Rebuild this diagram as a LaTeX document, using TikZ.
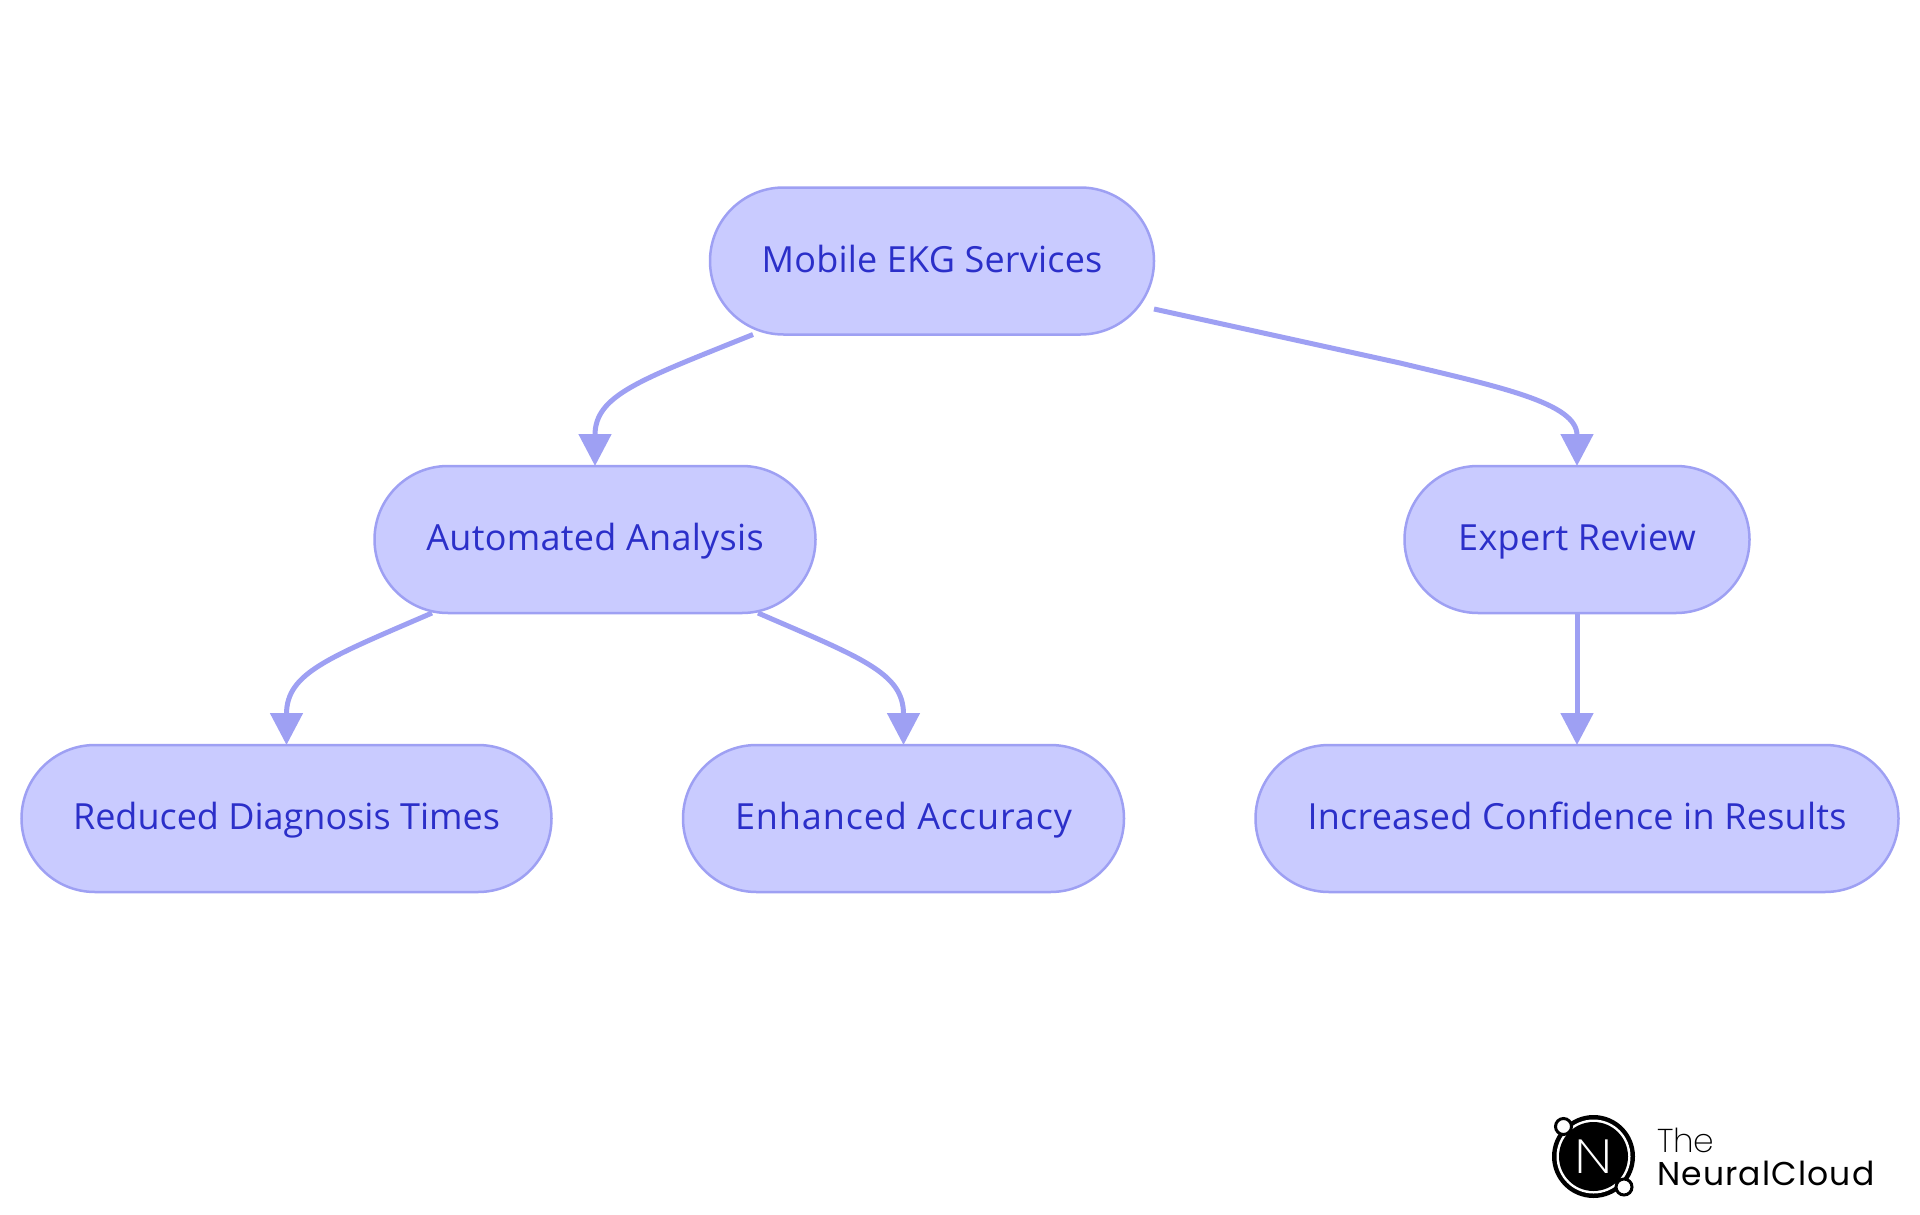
\documentclass[tikz,border=0pt]{standalone}
\usepackage{fontspec}
\setmainfont{Open Sans}
\newfontfamily\logolight[UprightFont={* ExtraLight}]{Poppins}
\newfontfamily\logoreg{Poppins}
\usetikzlibrary{arrows.meta,calc}
\definecolor{boxfill}{HTML}{C9CBFF}
\definecolor{boxline}{HTML}{9EA0F3}
\definecolor{boxtext}{HTML}{2B2FC9}
\newcommand{\spaced}[2]{{\addfontfeature{LetterSpace=#1}#2}}
\tikzset{
  pill/.style={draw=boxline,fill=boxfill,line width=2.5pt,rounded corners=73.5pt,minimum height=147pt,
    inner sep=0pt,outer sep=0pt,text=boxtext,text height=27pt,text depth=5pt,font=\fontsize{36}{36}\selectfont},
  link/.style={draw=boxline,line width=5pt,-{Triangle[length=32pt,width=32pt]}},
  logotext/.style={anchor=base west,inner sep=0pt,outer sep=0pt,text=black},
}
\begin{document}
\begin{tikzpicture}[x=1pt,y=-1pt]
\useasboundingbox (0,0) rectangle (1920,1215);
\node[pill,minimum width=444pt] (top) at (932,261) {\spaced{0.6}{Mobile EKG Services}};
\node[pill,minimum width=441pt] (auto) at (595,539.5) {\spaced{0.8}{Automated Analysis}};
\node[pill,minimum width=345pt] (expert) at (1577,539.5) {\spaced{0.85}{Expert Review}};
\node[pill,minimum width=530pt] (reduced) at (286.5,818.5) {Reduced Diagnosis Times};
\node[pill,minimum width=441pt] (enhanced) at (903.5,818.5) {\spaced{2.5}{Enhanced Accuracy}};
\node[pill,minimum width=643pt] (increased) at (1577,818.5) {\spaced{0.7}{Increased Confidence in Results}};
\draw[link] ($(top.south)+(-179,0)$) .. controls (640,380) and (595,395) .. (auto.north);
\draw[link] ($(top.east)+(0,48)$) -- (1400,363) .. controls (1500,387) and (1577,403) .. (expert.north);
\draw[link] ($(auto.south)+(-163,0)$) .. controls (328,658) and (286.5,673) .. (reduced.north);
\draw[link] ($(auto.south)+(163,0)$) .. controls (862,658) and (903.5,673) .. (enhanced.north);
\draw[link] (expert.south) -- (increased.north);
% logo
\fill[black] (1593.5,1156.5) circle (41.5);
\fill[white] (1593.5,1156.5) circle (37);
\fill[black] (1593.5,1156.5) circle (34.5);
\node[inner sep=0pt,outer sep=0pt,text=white,xscale=1.2,font=\logolight\fontsize{48}{48}\selectfont] (logoN) at (1593.5,1156.5) {N};
\filldraw[fill=white,draw=black,line width=3pt] (1563.5,1126.5) circle (8);
\filldraw[fill=white,draw=black,line width=3pt] (1624,1187) circle (8);
\node[logotext,font=\logolight\fontsize{33}{33}\selectfont] (logoThe) at (1657,1152) {The};
\node[logotext,font=\logoreg\fontsize{33}{33}\selectfont] (logoNC) at (1657,1185) {\spaced{3.6}{NeuralCloud}};
\end{tikzpicture}
\end{document}
